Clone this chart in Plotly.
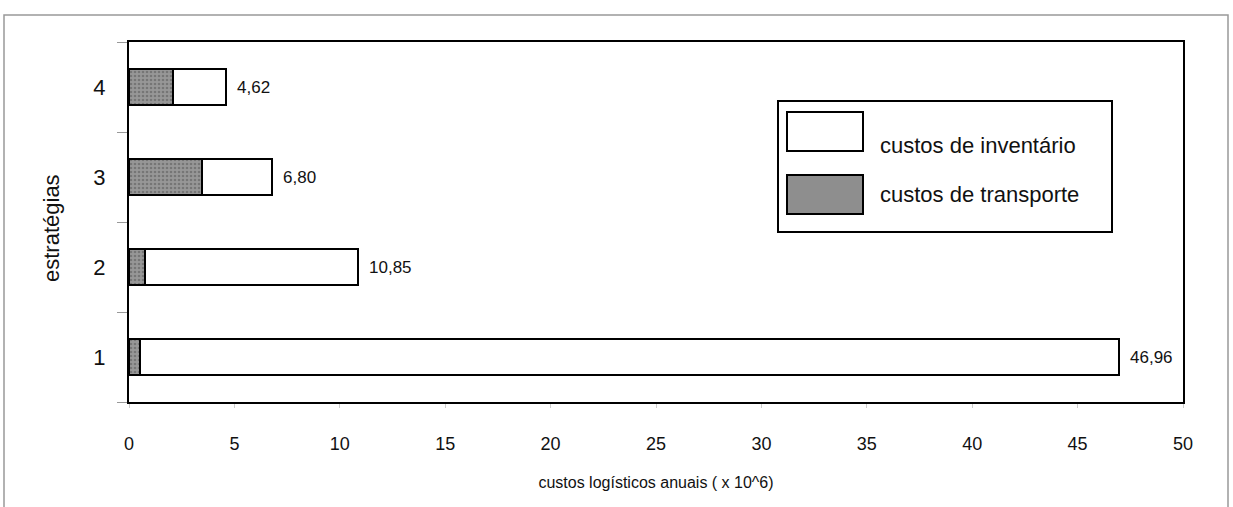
import plotly.graph_objects as go

# ---- data ----
strategies = ["1", "2", "3", "4"]
transport = [0.50, 0.75, 3.44, 2.09]
inventory = [46.46, 10.10, 3.36, 2.53]
total_labels = ["46,96", "10,85", "6,80", "4,62"]
totals = [46.96, 10.85, 6.80, 4.62]
x_ticks = [0, 5, 10, 15, 20, 25, 30, 35, 40, 45, 50]

FONT = "Liberation Sans, Arial, sans-serif"
W, H = 1233, 507
ML, MR, MT, MB = 129, 50, 42, 105
PW, PH = W - ML - MR, H - MT - MB


def px(x):
    return (x - ML) / PW


def py(y):
    return 1 - (y - MT) / PH


fig = go.Figure()
fig.add_trace(go.Bar(
    y=strategies, x=transport, orientation="h", name="custos de transporte",
    marker=dict(color="#8e8e8e", line=dict(color="black", width=2),
                pattern=dict(shape=".", fgcolor="#555555", bgcolor="#979797",
                             size=4, solidity=0.35)),
    width=0.4, showlegend=False,
))
fig.add_trace(go.Bar(
    y=strategies, x=inventory, orientation="h", name="custos de inventário",
    marker=dict(color="white", line=dict(color="black", width=2)),
    width=0.4, showlegend=False,
))

for i, (t, lab) in enumerate(zip(totals, total_labels)):
    fig.add_annotation(x=t, y=i, text=lab, showarrow=False, xanchor="left",
                       xshift=9, font=dict(family=FONT, size=17, color="#111"))

# y-axis title
fig.add_annotation(x=px(51), y=py(228), xref="paper", yref="paper", text="estratégias",
                   textangle=-90, showarrow=False, xanchor="center", yanchor="middle",
                   font=dict(family=FONT, size=22, color="#111"))

# manual legend
shapes = []
shapes.append(dict(type="rect", xref="paper", yref="paper", x0=px(778), x1=px(1112),
                   y0=py(232), y1=py(101), line=dict(color="black", width=2), fillcolor="white"))
shapes.append(dict(type="rect", xref="paper", yref="paper", x0=px(787), x1=px(863),
                   y0=py(151), y1=py(112), line=dict(color="black", width=2), fillcolor="white"))
shapes.append(dict(type="rect", xref="paper", yref="paper", x0=px(787), x1=px(863),
                   y0=py(214), y1=py(175), line=dict(color="black", width=2), fillcolor="#8e8e8e"))
# outer frame
shapes.append(dict(type="rect", xref="paper", yref="paper", x0=px(4), x1=px(1228),
                   y0=py(520), y1=py(15), line=dict(color="#999", width=1.5), layer="below"))
fig.add_annotation(x=px(878), y=py(131), xref="paper", yref="paper", text="custos de inventário",
                   showarrow=False, xanchor="left", font=dict(family=FONT, size=22, color="#111"))
fig.add_annotation(x=px(878), y=py(194), xref="paper", yref="paper", text="custos de transporte",
                   showarrow=False, xanchor="left", font=dict(family=FONT, size=22, color="#111"))

fig.update_layout(
    width=W, height=H, barmode="stack",
    margin=dict(l=ML, r=MR, t=MT, b=MB),
    paper_bgcolor="white", plot_bgcolor="white",
    shapes=shapes,
    font=dict(family=FONT, color="#111"),
    xaxis=dict(range=[0, 50], tickvals=x_ticks, ticktext=[str(v) for v in x_ticks],
               showgrid=False, zeroline=False, showline=True, linecolor="black", linewidth=2,
               mirror=True, ticks="outside", ticklen=4, tickcolor="#ccc",
               tickfont=dict(family=FONT, size=18), ticklabelstandoff=20,
               title=dict(text="custos logísticos anuais ( x 10^6)", standoff=24,
                          font=dict(family=FONT, size=16))),
    yaxis=dict(type="category", categoryorder="array", categoryarray=strategies,
               range=[-0.5, 3.5], showgrid=False, zeroline=False, showline=True,
               linecolor="black", linewidth=2, mirror=True, ticks="outside",
               tickson="boundaries", ticklen=10, tickcolor="#999",
               tickfont=dict(family=FONT, size=22), ticklabelstandoff=17),
)

fig.write_html("out.html")
